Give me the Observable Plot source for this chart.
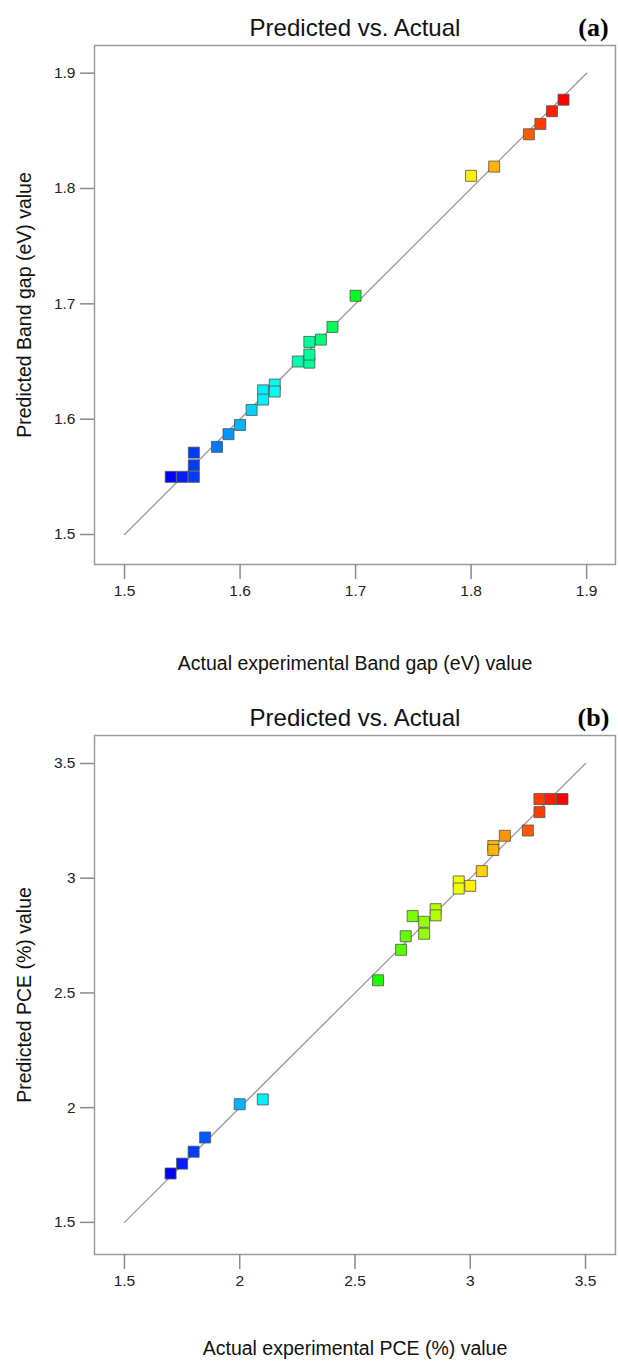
<!DOCTYPE html>
<html>
<head>
<meta charset="utf-8">
<script src="https://cdn.jsdelivr.net/npm/d3@7"></script>
<script src="https://cdn.jsdelivr.net/npm/@observablehq/plot@0.6"></script>
<style>
  html, body { margin: 0; padding: 0; background: #fff; }
  #chart svg { display: block; }
</style>
</head>
<body>
<div id="chart"></div>
<script>
// ---- Panel (a): Band gap ----
const titleA = "Predicted vs. Actual";
const tagA = "(a)";
const xLabelA = "Actual experimental Band gap (eV) value";
const yLabelA = "Predicted Band gap (eV) value";
const actualA    = [1.54, 1.55, 1.56, 1.56, 1.56, 1.58, 1.59, 1.60, 1.61, 1.62, 1.62, 1.63, 1.63,
                    1.65, 1.66, 1.66, 1.66, 1.67, 1.68, 1.70, 1.80, 1.82, 1.85, 1.86, 1.87, 1.88];
const predictedA = [1.550, 1.550, 1.550, 1.560, 1.571, 1.576, 1.587, 1.595, 1.608, 1.625, 1.617, 1.630, 1.624,
                    1.650, 1.649, 1.656, 1.667, 1.669, 1.680, 1.707, 1.811, 1.819, 1.847, 1.856, 1.867, 1.877];
const ticksA = [1.5, 1.6, 1.7, 1.8, 1.9];
const lineA = [1.5, 1.9];

// ---- Panel (b): PCE ----
const titleB = "Predicted vs. Actual";
const tagB = "(b)";
const xLabelB = "Actual experimental PCE (%) value";
const yLabelB = "Predicted PCE (%) value";
const actualB    = [1.70, 1.75, 1.80, 1.85, 2.00, 2.10, 2.60, 2.70, 2.72, 2.75, 2.80, 2.80, 2.85,
                    2.85, 2.95, 2.95, 3.00, 3.05, 3.10, 3.10, 3.15, 3.25, 3.30, 3.30, 3.35, 3.40];
const predictedB = [1.713, 1.756, 1.808, 1.870, 2.015, 2.036, 2.555, 2.688, 2.747, 2.835, 2.810, 2.758, 2.865,
                    2.838, 2.986, 2.955, 2.967, 3.031, 3.140, 3.123, 3.185, 3.208, 3.288, 3.345, 3.345, 3.345];
const ticksB = [1.5, 2, 2.5, 3, 3.5];
const lineB = [1.5, 3.5];

const FONT = "Liberation Sans, Arial, sans-serif";
const rainbow = t => d3.interpolateHslLong("hsl(240,100%,50%)", "hsl(0,100%,50%)")(t);

function panel({actual, predicted, ticks, line, xDomain, yDomain, height, marginBottom, title, tag, xLabel, yLabel, xLabelDy}) {
  const data = actual.map((a, i) => ({actual: a, predicted: predicted[i]}));
  const diag = line.map(v => ({x: v, y: v}));
  return Plot.plot({
    width: 618,
    height,
    marginLeft: 94,
    marginRight: 3,
    marginTop: 45,
    marginBottom,
    style: {fontFamily: FONT, background: "#fff", color: "#222"},
    x: {domain: xDomain},
    y: {domain: yDomain},
    color: {type: "linear", domain: [d3.min(actual), d3.max(actual)], interpolate: rainbow},
    marks: [
      Plot.frame({stroke: "#9a9a9a", strokeWidth: 1.5}),
      Plot.axisX({ticks, tickSize: 15, tickPadding: 5, fontSize: 15.5, stroke: "#8a8a8a", strokeWidth: 1.5, label: null, tickFormat: d => String(d)}),
      Plot.axisY({ticks, tickSize: 14, tickPadding: 5, fontSize: 15.5, stroke: "#8a8a8a", strokeWidth: 1.5, label: null, tickFormat: d => String(d)}),
      Plot.line(diag, {x: "x", y: "y", stroke: "#999", strokeWidth: 1.3}),
      Plot.dot(data, {x: "actual", y: "predicted", symbol: "square", r: 6.2, fill: "actual", stroke: "#505050", strokeWidth: 1, strokeOpacity: 0.8}),
      Plot.text([title], {frameAnchor: "top", dy: -17, lineAnchor: "middle", fontSize: 24, fill: "#111", text: d => d}),
      Plot.text([tag], {frameAnchor: "top-right", dx: -22, dy: -18, lineAnchor: "middle", textAnchor: "middle", fontSize: 26, fontWeight: "bold", fontFamily: "Liberation Serif, Times New Roman, serif", fill: "#000", text: d => d}),
      Plot.text([xLabel], {frameAnchor: "bottom", dy: xLabelDy, lineAnchor: "middle", fontSize: 19.5, fill: "#111", text: d => d}),
      Plot.text([yLabel], {frameAnchor: "left", dx: -70, rotate: -90, textAnchor: "middle", lineAnchor: "middle", fontSize: 19.5, fill: "#111", text: d => d})
    ]
  });
}

const chart = document.getElementById("chart");
chart.append(panel({
  actual: actualA, predicted: predictedA, ticks: ticksA, line: lineA,
  xDomain: [1.474, 1.925], yDomain: [1.474, 1.924],
  height: 690, marginBottom: 126,
  title: titleA, tag: tagA, xLabel: xLabelA, yLabel: yLabelA, xLabelDy: 99
}));
chart.append(panel({
  actual: actualB, predicted: predictedB, ticks: ticksB, line: lineB,
  xDomain: [1.37, 3.63], yDomain: [1.36, 3.622],
  height: 673, marginBottom: 109,
  title: titleB, tag: tagB, xLabel: xLabelB, yLabel: yLabelB, xLabelDy: 94
}));
</script>
</body>
</html>
